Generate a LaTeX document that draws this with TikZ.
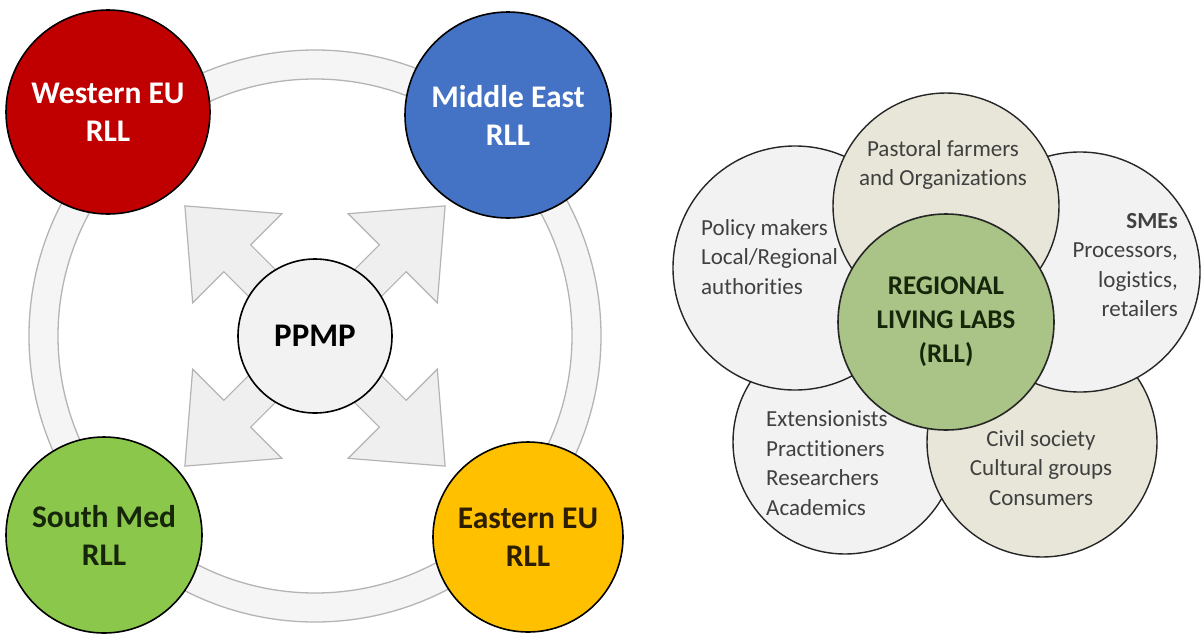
\documentclass[tikz,border=0pt]{standalone}
\usepackage{fontspec}
\setmainfont[Ligatures=NoCommon]{Carlito}
\definecolor{westred}{RGB}{192,0,0}
\definecolor{eastblue}{RGB}{68,114,196}
\definecolor{medgreen}{RGB}{139,199,74}
\definecolor{euyellow}{RGB}{255,192,0}
\definecolor{ringedge}{RGB}{180,180,180}
\definecolor{ringfill}{RGB}{245,245,245}
\definecolor{arrowfill}{RGB}{239,239,239}
\definecolor{hubfill}{RGB}{242,242,242}
\definecolor{petalgray}{RGB}{242,242,242}
\definecolor{petalbeige}{RGB}{231,230,216}
\definecolor{rllgreen}{RGB}{169,196,134}
\definecolor{petaltext}{RGB}{64,64,64}
\definecolor{darkgreentext}{RGB}{22,38,10}
\definecolor{darkyellowtext}{RGB}{45,30,0}
\tikzset{
  regionbox/.style={circle, draw=black, line width=1.6pt, inner sep=0pt,
    minimum size=#1, align=center,
    font=\fontsize{31.5}{38}\selectfont\bfseries},
  hubbox/.style={circle, draw=black, line width=1.6pt, fill=hubfill,
    inner sep=0pt, minimum size=154pt,
    font=\fontsize{33}{38}\selectfont\bfseries},
  blockarrow/.style={fill=arrowfill, draw=ringedge, line width=1.2pt, line join=miter},
  petal/.style={circle, draw=black!85, line width=1.4pt, inner sep=0pt, minimum size=#1},
  petallabel/.style={text=petaltext, inner sep=0pt,
    font=\fontsize{23}{29.5}\selectfont},
  corebox/.style={circle, draw=black!85, line width=1.6pt, fill=rllgreen,
    inner sep=0pt, minimum size=216pt, align=center, text=darkgreentext,
    font=\fontsize{27}{34}\selectfont\bfseries}
}
\begin{document}
\begin{tikzpicture}[x=1pt,y=-1pt]
\useasboundingbox (0,0) rectangle (1202,635);
\fill[white] (0,0) rectangle (1202,635);

% ---------- left: the partnership ring ----------
\coordinate (hub) at (315,336);
\fill[ringfill, even odd rule] (hub) circle[radius=286pt] (hub) circle[radius=257pt];
\draw[ringedge, line width=1.3pt] (hub) circle[radius=286pt];
\draw[ringedge, line width=1.3pt] (hub) circle[radius=257pt];

% four block arrows leaving the hub
\foreach \ang in {45,135,225,315}{
  \begin{scope}[shift={(hub)}, rotate=\ang]
    \draw[blockarrow] (40,19) -- (110,19) -- (110,63) -- (184,0)
      -- (110,-63) -- (110,-19) -- (40,-19);
  \end{scope}
}

\node[hubbox] (ppmp) at (hub) {PPMP};

\node[regionbox=204pt, fill=westred, text=white] (west) at (108,112) {Western EU\\RLL};
\node[regionbox=206pt, fill=eastblue, text=white] (mideast) at (508,115) {Middle East\\RLL};
\node[regionbox=196pt, fill=medgreen, text=darkgreentext] (south) at (104,535) {South Med\\RLL};
\node[regionbox=190pt, fill=euyellow, text=darkyellowtext] (east) at (528,537) {Eastern EU\\RLL};

% ---------- right: stakeholder flower ----------
\node[petal=224pt, fill=petalgray] (research) at (845,442) {};
\node[petallabel, align=left, anchor=west] (researchtext) at (766,463)
  {Extensionists\\Practitioners\\Researchers\\Academics};

\node[petal=230pt, fill=petalbeige] (civil) at (1042,442) {};
\node[petallabel, align=center] (civiltext) at (1041,468)
  {Civil society\\Cultural groups\\Consumers};

\node[petal=244pt, fill=petalgray] (policy) at (795,268) {};
\node[petallabel, align=left, anchor=west] (policytext) at (701,257)
  {Policy makers\\Local/Regional\\authorities};

\node[petal=240pt, fill=petalgray] (smes) at (1080,272) {};
\node[petallabel, align=right, anchor=east] (smestext) at (1178,265)
  {\textbf{SMEs}\\Processors,\\logistics,\\retailers};

\node[petal=226pt, fill=petalbeige] (farmers) at (946,206) {};
\node[petallabel, align=center] (farmerstext) at (943,165)
  {Pastoral farmers\\and Organizations};

\node[corebox] (rll) at (946,322) {REGIONAL\\LIVING LABS\\(RLL)};
\end{tikzpicture}
\end{document}
